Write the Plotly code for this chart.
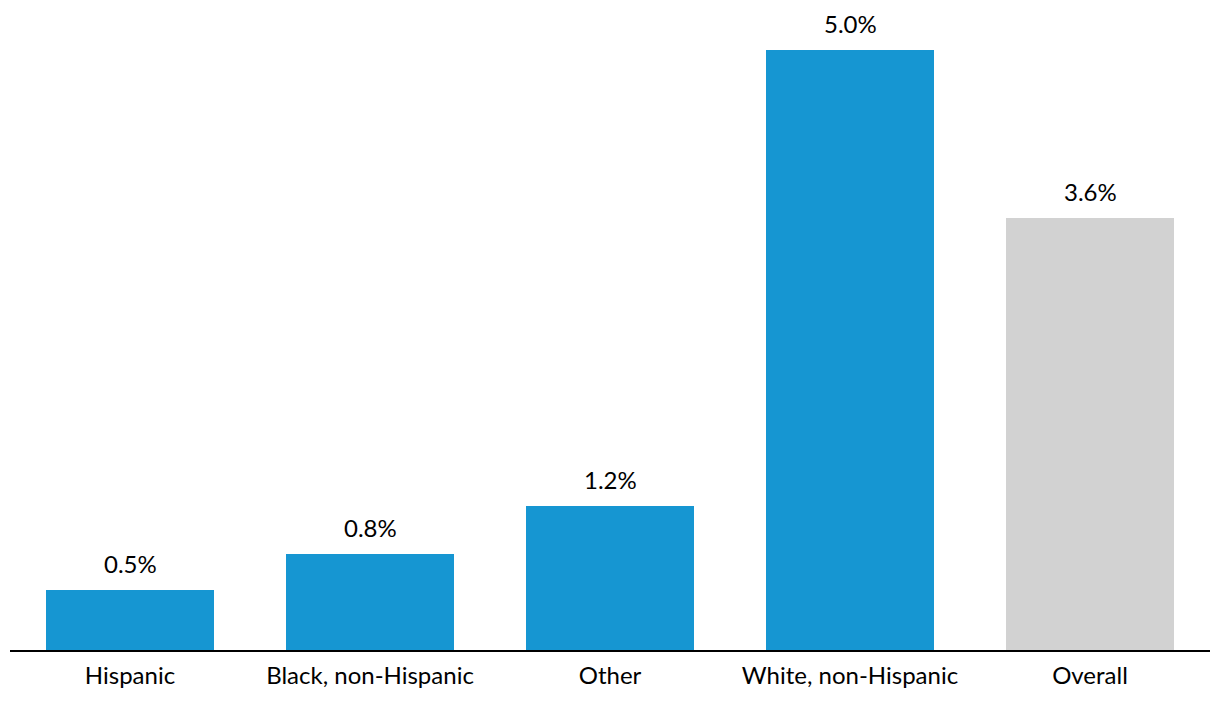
import plotly.graph_objects as go

categories = ["Hispanic", "Black, non-Hispanic", "Other", "White, non-Hispanic", "Overall"]
values = [0.5, 0.8, 1.2, 5.0, 3.6]
labels = ["0.5%", "0.8%", "1.2%", "5.0%", "3.6%"]
colors = ["#1696d2", "#1696d2", "#1696d2", "#1696d2", "#d2d2d2"]

fig = go.Figure()
fig.add_trace(go.Bar(x=categories, y=values, marker=dict(color=colors, line=dict(width=0)),
                     hoverinfo="skip"))

for c, v, t in zip(categories, values, labels):
    fig.add_annotation(x=c, y=v, text=t, showarrow=False, yanchor="bottom", yshift=10,
                       font=dict(family="Lato", size=24, color="#000000"))

fig.update_layout(
    width=1220, height=706,
    margin=dict(l=2, r=18, t=2, b=64),
    paper_bgcolor="white", plot_bgcolor="white",
    bargap=0.3,
    showlegend=False,
    font=dict(family="Lato", size=24, color="#000000"),
    xaxis=dict(showline=True, linecolor="#000000", linewidth=2, showgrid=False,
               ticks="", ticklabelstandoff=3,
               tickfont=dict(family="Lato", size=24, color="#000000")),
    yaxis=dict(visible=False, range=[0, 640 / 120], showgrid=False, zeroline=False),
)

fig.write_html("out.html")
